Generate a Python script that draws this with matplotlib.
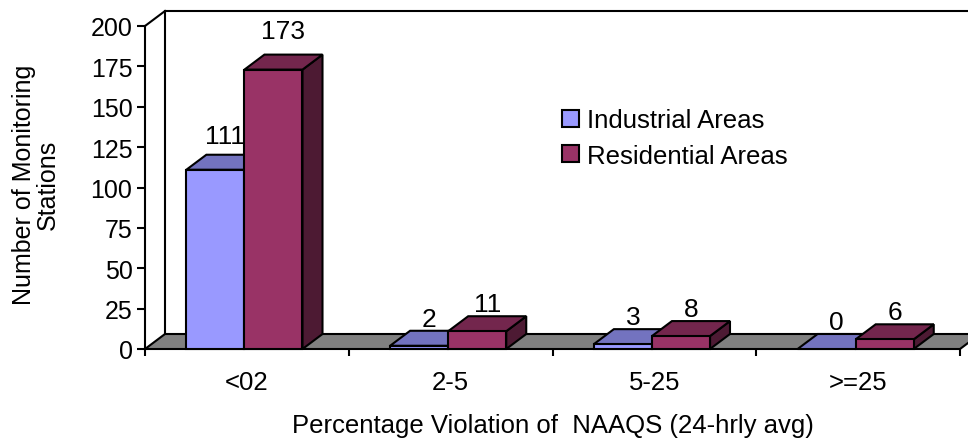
import matplotlib
matplotlib.use("Agg")
import matplotlib.pyplot as plt
from matplotlib.patches import Polygon, Patch

plt.rcParams["font.family"] = ["Liberation Sans", "DejaVu Sans"]

# data
categories = ["<02", "2-5", "5-25", ">=25"]
industrial = [111, 2, 3, 0]
residential = [173, 11, 8, 6]
series_names = ["Industrial Areas", "Residential Areas"]
y_ticks = [0, 25, 50, 75, 100, 125, 150, 175, 200]
x_title = "Percentage Violation of  NAAQS (24-hrly avg)"
y_title = "Number of Monitoring\nStations"

# colours (front, top, side)
IND_COLORS = ("#9999FF", "#7373BF", "#4D4D80")
RES_COLORS = ("#993366", "#73264D", "#4D1A33")
FLOOR = "#808080"
LW = 1.5

W, H = 968, 439
fig = plt.figure(figsize=(W / 100, H / 100), dpi=100)
ax_l, ax_b, ax_w, ax_h = 145, 89, 815, 323
ax = fig.add_axes([ax_l / W, ax_b / H, ax_w / W, ax_h / H])

n = len(categories)
ymax = y_ticks[-1]
ax.set_xlim(0, n)
ax.set_ylim(0, ymax)

# depth offset of the fake 3d, pixels -> data units
dx = 20 * n / ax_w
dy = 15 * ymax / ax_h


def poly(pts, fc, z):
    p = Polygon(pts, closed=True, facecolor=fc, edgecolor="black",
                linewidth=LW, joinstyle="miter", clip_on=False, zorder=z)
    ax.add_patch(p)


def bar3d(x0, w, h, colors, z):
    front, top, side = colors
    x1 = x0 + w
    poly([(x1, 0), (x1 + dx, dy), (x1 + dx, h + dy), (x1, h)], side, z)
    poly([(x0, h), (x1, h), (x1 + dx, h + dy), (x0 + dx, h + dy)], top, z)
    if h > 0:
        poly([(x0, 0), (x1, 0), (x1, h), (x0, h)], front, z)


# back wall outline
ax.plot([dx, dx, n + dx], [dy, ymax + dy, ymax + dy], color="black",
        lw=LW, clip_on=False, zorder=1, solid_joinstyle="miter")
ax.plot([0, dx], [ymax, ymax + dy], color="black", lw=LW, clip_on=False, zorder=1)

# floor
poly([(0, 0), (n, 0), (n + dx, dy), (dx, dy)], FLOOR, 2)

bar_w = 0.285
shift = -0.012
for i in range(n):
    c = i + 0.5 + shift
    for j, (vals, cols) in enumerate([(industrial, IND_COLORS), (residential, RES_COLORS)]):
        x0 = c - bar_w + j * bar_w
        v = vals[i]
        bar3d(x0, bar_w, v, cols, 3 + i * 2 + j)
        off = (12 + 0.065 * v) * 0.72
        ax.annotate(str(v), (x0 + bar_w / 2 + dx / 2, v + dy), xytext=(0, off),
                    textcoords="offset points", ha="center", va="center",
                    fontsize=19, annotation_clip=False, zorder=20)

# axes styling
for s in ["top", "right", "bottom"]:
    ax.spines[s].set_visible(False)
ax.spines["left"].set_linewidth(LW)
ax.spines["left"].set_zorder(10)

ax.set_yticks(y_ticks)
ax.tick_params(axis="y", direction="out", length=6, width=LW, pad=3, labelsize=18)

ax.set_xticks(range(n + 1))
ax.set_xticklabels([])
ax.set_xticks([i + 0.5 for i in range(n)], minor=True)
ax.set_xticklabels(categories, minor=True)
ax.tick_params(axis="x", which="major", direction="out", length=5, width=LW)
ax.tick_params(axis="x", which="minor", length=0, pad=15, labelsize=18.5)

ax.set_ylabel(y_title, fontsize=18, linespacing=1.0)
ax.yaxis.set_label_coords(-0.104, 0.511)
fig.text(ax_l / W + ax_w / W / 2, 6 / H, x_title, ha="center", va="baseline",
         fontsize=18.5)

handles = [Patch(facecolor=IND_COLORS[0], edgecolor="black", linewidth=LW),
           Patch(facecolor=RES_COLORS[0], edgecolor="black", linewidth=LW)]
ax.legend(handles, series_names, loc="center left", bbox_to_anchor=(562 / W, 1 - 139 / H),
          bbox_transform=fig.transFigure, frameon=False, fontsize=18.5,
          handlelength=0.66, handleheight=0.66, handletextpad=0.3,
          labelspacing=0.45, borderpad=0, borderaxespad=0)

fig.savefig("out.png", dpi=100)
